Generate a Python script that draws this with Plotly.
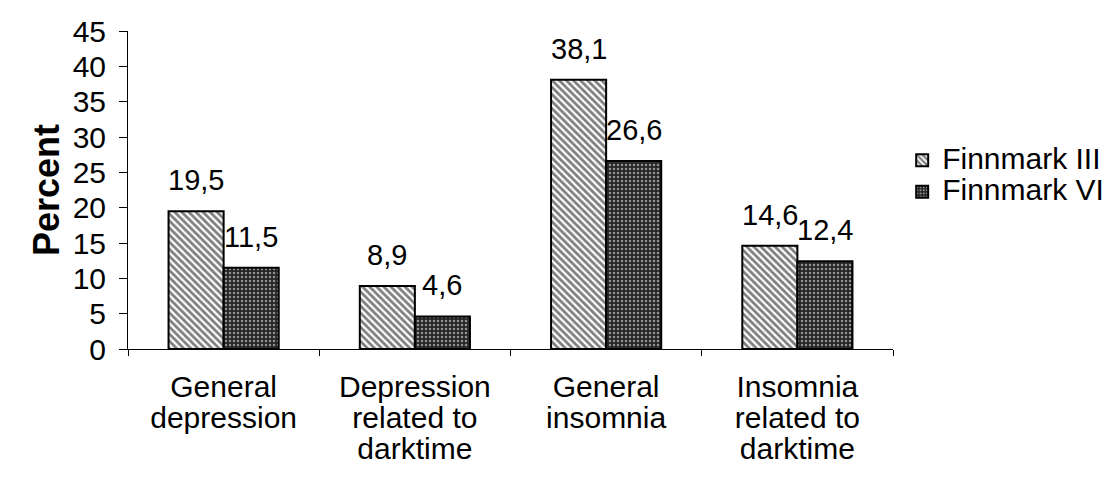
import plotly.graph_objects as go

categories = ["General<br>depression", "Depression<br>related to<br>darktime",
              "General<br>insomnia", "Insomnia<br>related to<br>darktime"]
series_names = ["Finnmark III", "Finnmark VI"]
finnmark_iii = [19.5, 8.9, 38.1, 14.6]
finnmark_vi = [11.5, 4.6, 26.6, 12.4]
y_ticks = [0, 5, 10, 15, 20, 25, 30, 35, 40, 45]

FONT = "Liberation Sans, Arial, Helvetica, sans-serif"
W, H = 1116, 488
ML, MR, MT, MB = 120, 231, 23, 147
BARGAP = 0.424


def big(s, px=30):
    return f'<span style="font-size:{px}px">{s}</span>'


fig = go.Figure()
fig.add_trace(go.Bar(
    name=big(series_names[0], 30), x=categories, y=finnmark_iii,
    marker=dict(color="white", line=dict(color="black", width=2),
                pattern=dict(shape="\\", fgcolor="black", size=5, solidity=0.55)),
))
fig.add_trace(go.Bar(
    name=big(series_names[1], 30), x=categories, y=finnmark_vi,
    marker=dict(color="#262626", line=dict(color="black", width=2),
                pattern=dict(shape=".", fgcolor="white", size=4, solidity=0.3)),
))

# value labels above bars
plot_w = W - ML - MR
cat_px = plot_w / len(categories)
bar_px = cat_px * (1 - BARGAP) / 2
annotations = []
for vals, sign in ((finnmark_iii, -1), (finnmark_vi, 1)):
    for c, v in zip(categories, vals):
        annotations.append(dict(
            x=c, y=v, xref="x", yref="y", text=f"{v:.1f}".replace(".", ","),
            showarrow=False, xshift=sign * bar_px / 2, yshift=13, yanchor="bottom",
            font=dict(family=FONT, size=29, color="black"),
        ))

fig.update_layout(
    width=W, height=H,
    margin=dict(l=ML, r=MR, t=MT, b=MB, autoexpand=False),
    paper_bgcolor="white", plot_bgcolor="white",
    barmode="group", bargap=BARGAP, bargroupgap=0,
    font=dict(family=FONT, size=28, color="black"),
    showlegend=True,
    legend=dict(x=1.012, y=0.659, xanchor="left", yanchor="top",
                font=dict(family=FONT, size=22, color="black"),
                bgcolor="rgba(0,0,0,0)", itemwidth=30, tracegroupgap=0),
    annotations=annotations,
)
fig.update_xaxes(
    showline=True, linecolor="black", linewidth=1, mirror=False, automargin=False,
    ticks="outside", tickson="boundaries", ticklen=6, tickcolor="black",
    showgrid=False, tickfont=dict(family=FONT, size=24, color="black"),
    tickvals=categories, ticktext=[big(c, 30) for c in categories],
    ticklabelstandoff=18,
)
fig.update_yaxes(
    range=[0, 45], tickvals=y_ticks, showline=True, linecolor="black", linewidth=1,
    automargin=False,
    ticks="outside", ticklen=8, tickcolor="black", showgrid=False, zeroline=False,
    ticklabelstandoff=7,
    tickfont=dict(family=FONT, size=30, color="black"),
    title=dict(text="<b>Percent</b>", font=dict(family=FONT, size=36, color="black"), standoff=2),
)

fig.write_html("out.html")
